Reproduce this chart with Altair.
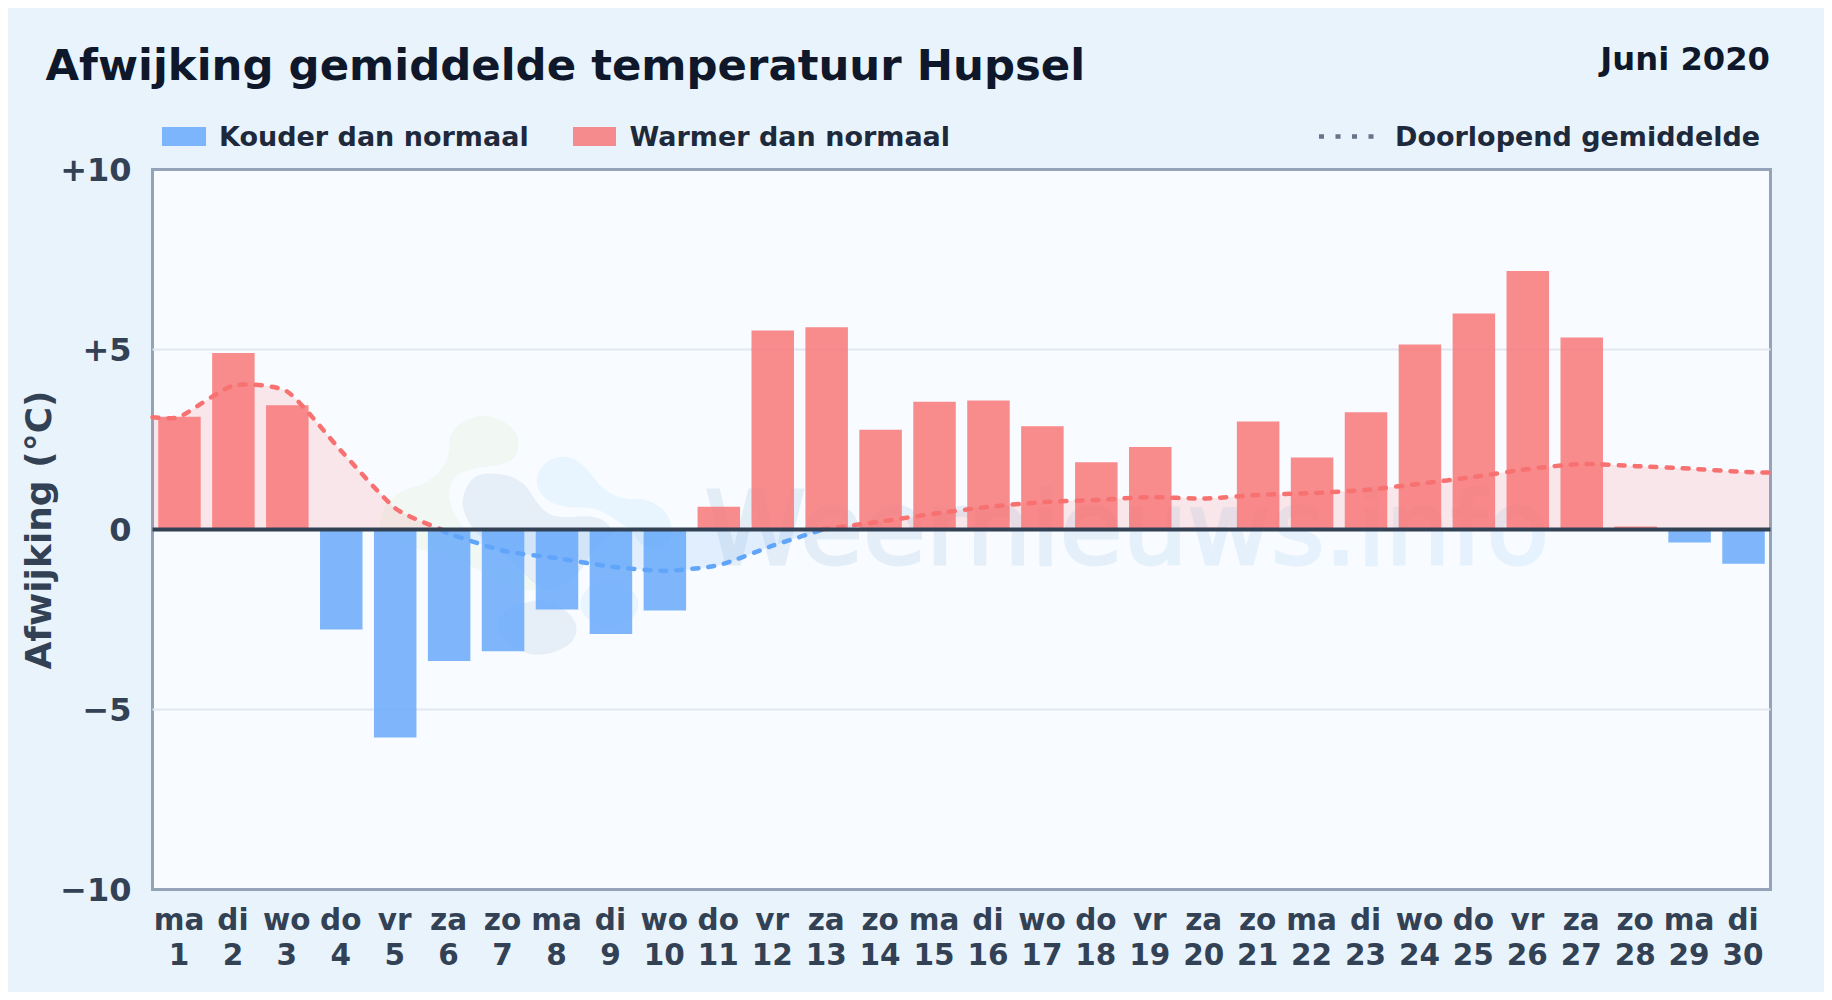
import altair as alt
import pandas as pd

weekdays = ["ma","di","wo","do","vr","za","zo","ma","di","wo","do","vr","za","zo","ma","di","wo","do","vr","za","zo","ma","di","wo","do","vr","za","zo","ma","di"]
days = list(range(1, 31))
deviation = [3.13,4.9,3.45,-2.78,-5.78,-3.65,-3.38,-2.22,-2.9,-2.25,0.63,5.53,5.62,2.77,3.55,3.58,2.87,1.87,2.29,0.05,3.0,2.0,3.26,5.14,6.0,7.18,5.33,0.08,-0.36,-0.95]
running = [3.13,4.0,3.83,2.18,0.59,-0.12,-0.59,-0.8,-1.03,-1.15,-0.99,-0.45,0.02,0.22,0.44,0.63,0.76,0.82,0.9,0.86,0.96,1.01,1.1,1.27,1.46,1.68,1.82,1.76,1.69,1.6]
grid_levels = [-5, 5]
# line leaves the plot at both edges; sign changes
edge_left, edge_right = (0.5, 3.12), (30.5, 1.58)
cross_down, cross_up = 5.86, 12.93

RED, BLUE = "#f87171", "#60a5fa"
FONT = "DejaVu Sans"

bars = pd.DataFrame({"day": days, "value": deviation})
bars["kind"] = ["warm" if v >= 0 else "cold" for v in deviation]

pairs = list(zip(days, running))
warm1 = pd.DataFrame([edge_left] + pairs[:5] + [(cross_down, 0)], columns=["day", "value"])
cold = pd.DataFrame([(cross_down, 0)] + pairs[5:12] + [(cross_up, 0)], columns=["day", "value"])
warm2 = pd.DataFrame([(cross_up, 0)] + pairs[12:] + [edge_right], columns=["day", "value"])

names = ",".join(f"'{w}'" for w in weekdays)
x_axis = alt.Axis(values=days, grid=False, ticks=False, domain=False, labelOverlap=False,
                  labelFlush=False, labelBound=False, labelAngle=0, title=None,
                  labelExpr=f"[[{names}][datum.value-1], ''+datum.value]",
                  labelFont=FONT, labelFontWeight="bold", labelFontSize=29.5, labelColor="#334155",
                  labelLineHeight=35, labelPadding=17, labelBaseline="top", labelOffset=-1)
y_axis = alt.Axis(values=[-10, -5, 0, 5, 10], ticks=False, domain=False, grid=False,
                  labelExpr="datum.value>0?'+'+datum.value:datum.value<0?'\u2212'+abs(datum.value):'0'",
                  labelFont=FONT, labelFontWeight="bold", labelFontSize=32, labelColor="#334155",
                  labelPadding=21.5, labelOffset=1.2, title="Afwijking (\u00b0C)", titleFont=FONT,
                  titleFontWeight="bold", titleFontSize=36, titleColor="#334155", titlePadding=1.5)
x_scale = alt.Scale(domain=[0.5, 30.5], nice=False, zero=False, padding=0)
y_scale = alt.Scale(domain=[-10, 10], nice=False)
X = alt.X("day:Q", scale=x_scale, axis=x_axis)
Y = alt.Y("value:Q", scale=y_scale, axis=y_axis)

grid = alt.Chart(pd.DataFrame({"value": grid_levels})).mark_rule(color="#e2e8f0", strokeWidth=2).encode(y=Y)

# watermark
def smooth(points):
    pts = [((px - 560) / 100, (py - 520) / 100) for px, py in ((360 + a / 3, 390 + b / 3) for a, b in points)]
    mid = lambda p, q: ((p[0] + q[0]) / 2, (p[1] + q[1]) / 2)
    start = mid(pts[-1], pts[0])
    path = f"M{start[0]:.3f},{start[1]:.3f}"
    for i, p in enumerate(pts):
        m = mid(p, pts[(i + 1) % len(pts)])
        path += f"Q{p[0]:.3f},{p[1]:.3f} {m[0]:.3f},{m[1]:.3f}"
    return path + "Z"

blob_green = [(265,120),(370,65),(475,120),(475,195),(440,225),(350,235),(285,255),(265,300),(270,350),(310,420),(370,480),(430,530),(530,570),(530,610),(440,590),(300,510),(170,480),(60,440),(60,370),(110,305),(210,280),(270,205)]
blob_slate = [(305,320),(340,255),(420,250),(490,275),(525,335),(565,378),(620,385),(690,378),(740,395),(765,440),(700,470),(675,530),(620,585),(555,610),(500,560),(420,490),(340,425),(310,370)]
blob_sky = [(530,250),(570,205),(630,200),(680,235),(725,300),(790,330),(860,328),(920,365),(938,425),(925,470),(850,480),(820,430),(760,385),(700,352),(620,355),(560,335),(530,295)]
blob_slate2 = [(490,640),(560,628),(630,670),(655,720),(630,770),(550,800),(480,790),(400,725),(430,660)]
blob_sky2 = [(660,620),(720,560),(800,580),(842,640),(820,690),(750,722),(690,700),(660,660)]
logo_at = pd.DataFrame({"day": [8.06], "value": [0.28]})
logo = [
    alt.Chart(logo_at).mark_point(filled=True, shape=smooth(pts), size=40000, color=c, opacity=o, strokeWidth=0)
    .encode(x=X, y=Y)
    for pts, c, o in [(blob_green, "#a3d977", 0.08), (blob_slate, "#1c65a5", 0.08), (blob_slate2, "#1c65a5", 0.08),
                      (blob_sky, "#38a8f8", 0.08), (blob_sky2, "#38a8f8", 0.08)]
]
mark_text = alt.Chart(pd.DataFrame({"day": [10.74], "value": [-0.97], "t": ["Weernieuws.info"]})).mark_text(
    font=FONT, fontSize=102.4, align="left", baseline="alphabetic", opacity=0.09, strokeWidth=3,
    color=alt.Gradient(gradient="linear", x1=0, x2=1, y1=0, y2=0,
                       stops=[alt.GradientStop(offset=0, color="#1c65a5"), alt.GradientStop(offset=1, color="#38a8f8")]),
    stroke=alt.Gradient(gradient="linear", x1=0, x2=1, y1=0, y2=0,
                        stops=[alt.GradientStop(offset=0, color="#1c65a5"), alt.GradientStop(offset=1, color="#38a8f8")]),
).encode(x=X, y=Y, text="t:N")

CURVE = dict(interpolate="cardinal", tension=0.4)

def area(df, color):
    return alt.Chart(df).mark_area(color=color, opacity=0.15, **CURVE).encode(
        x=X, y=Y, y2=alt.datum(0))

def line(df, color):
    return alt.Chart(df).mark_line(color=color, strokeWidth=4.5,
                                   strokeDash=[6, 10], strokeCap="round", **CURVE).encode(x=X, y=Y)

bar_layer = alt.Chart(bars).mark_bar(size=42.5, opacity=0.8).encode(
    x=X, y=Y, y2=alt.datum(0),
    color=alt.Color("kind:N", scale=alt.Scale(domain=["warm", "cold"], range=[RED, BLUE]), legend=None),
)
zero = alt.Chart(pd.DataFrame({"value": [0]})).mark_rule(color="#334155", strokeWidth=4.2).encode(y=Y)

one = pd.DataFrame({"a": [0]})
def label(text, x, y, size, color, align="left"):
    return alt.Chart(one).mark_text(text=text, font=FONT, fontWeight="bold", fontSize=size, color=color,
                                    align=align, baseline="alphabetic").encode(x=alt.value(x), y=alt.value(y))
def swatch(x, x2, color):
    return alt.Chart(one).mark_rect(color=color, opacity=0.8).encode(
        x=alt.value(x), x2=alt.value(x2), y=alt.value(-42.5), y2=alt.value(-23.5))

legend = [
    label("Afwijking gemiddelde temperatuur Hupsel", -107, -90, 43.4, "#0f172a"),
    swatch(9.5, 53.5, BLUE), label("Kouder dan normaal", 66.5, -24, 27, "#1e293b"),
    swatch(420.5, 463.5, RED), label("Warmer dan normaal", 477, -24, 27, "#1e293b"),
    alt.Chart(one).mark_rule(color="#64748b", strokeWidth=4.5, strokeDash=[5, 11.5]).encode(
        x=alt.value(1166.5), x2=alt.value(1222), y=alt.value(-33)),
    label("Doorlopend gemiddelde", 1242.5, -24, 27, "#1e293b"),
    label("Juni 2020", 1617.5, -99.5, 32.2, "#0f172a", align="right"),
]

chart = alt.layer(
    grid, *logo, mark_text,
    area(warm1, RED), area(cold, BLUE), area(warm2, RED),
    bar_layer,
    line(warm1, RED), line(cold, BLUE), line(warm2, RED),
    zero, *legend,
).properties(
    width=1618, height=720,
    background="#e8f3fc",
    padding={"left": 144.5, "top": 161.5, "right": 53.5, "bottom": 102.5},
    autosize=alt.AutoSizeParams(type="none"),
).configure_view(fill="#f8fbff", stroke="#94a3b8", strokeWidth=3)

chart.save("out.html", embed_options={"renderer": "svg", "actions": False})
